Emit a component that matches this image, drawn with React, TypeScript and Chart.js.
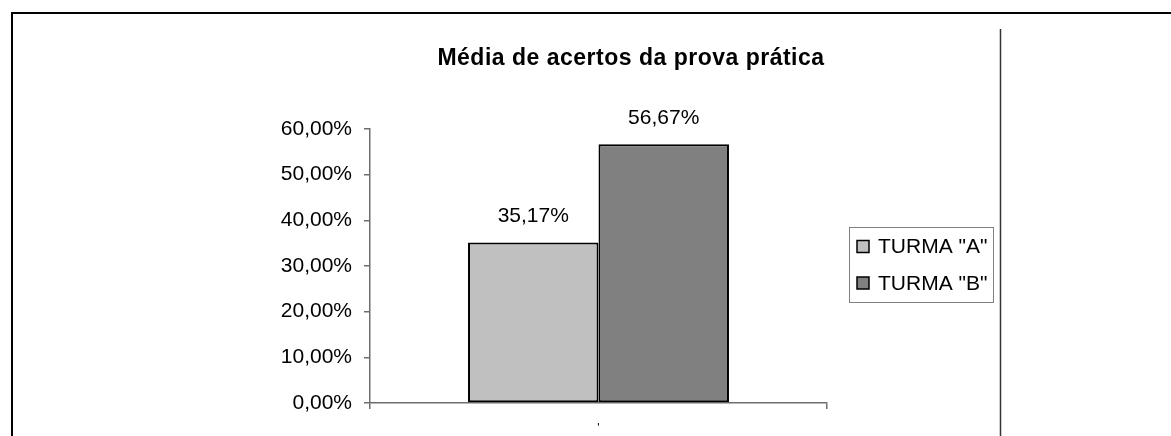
import React, { useEffect, useRef } from "react";
import { Chart, registerables } from "chart.js";

Chart.register(...registerables);

const chartTitle = "Média de acertos da prova prática";
const categories = ["'"];
const seriesNames = ['TURMA "A"', 'TURMA "B"'];
const turmaA = [35.17];
const turmaB = [56.67];
const seriesColors = ["#c0c0c0", "#808080"];
const yMin = 0;
const yMax = 60;
const yStep = 10;

const FONT = '"Liberation Sans", Arial, sans-serif';
const fmt = (v: number) => v.toFixed(2).replace(".", ",") + "%";

const decorPlugin = {
  id: "decor",
  afterDraw(chart: any) {
    const ctx = chart.ctx as CanvasRenderingContext2D;
    ctx.save();
    // outer frame (left + top)
    ctx.strokeStyle = "#000";
    ctx.lineWidth = 2;
    ctx.beginPath();
    ctx.moveTo(12, 436);
    ctx.lineTo(12, 13);
    ctx.lineTo(1171, 13);
    ctx.stroke();
    // inner vertical divider
    ctx.strokeStyle = "#333";
    ctx.lineWidth = 1.5;
    ctx.beginPath();
    ctx.moveTo(1000.5, 29);
    ctx.lineTo(1000.5, 436);
    ctx.stroke();
    // title
    ctx.fillStyle = "#000";
    ctx.font = `bold 23px ${FONT}`;
    ctx.textAlign = "center";
    ctx.textBaseline = "alphabetic";
    (ctx as any).letterSpacing = "0.5px";
    ctx.fillText(chartTitle, 631, 65);
    (ctx as any).letterSpacing = "0px";
    // value labels
    ctx.font = `21px ${FONT}`;
    chart.data.datasets.forEach((ds: any, i: number) => {
      const meta = chart.getDatasetMeta(i);
      meta.data.forEach((bar: any, j: number) => {
        ctx.fillText(fmt(ds.data[j]), bar.x, bar.y - 20);
      });
    });
    // legend
    ctx.strokeStyle = "#808080";
    ctx.lineWidth = 1;
    ctx.strokeRect(849.5, 227.5, 144, 75);
    ctx.textAlign = "left";
    ctx.textBaseline = "middle";
    chart.data.datasets.forEach((ds: any, i: number) => {
      const cy = 246.5 + i * 36.5;
      ctx.fillStyle = ds.backgroundColor;
      ctx.fillRect(857, cy - 6, 12, 12);
      ctx.strokeStyle = "#000";
      ctx.lineWidth = 1.5;
      ctx.strokeRect(857, cy - 6, 12, 12);
      ctx.fillStyle = "#000";
      ctx.fillText(ds.label, 878, cy + 1);
    });
    ctx.restore();
  },
};

export default function App() {
  const ref = useRef<HTMLCanvasElement | null>(null);
  useEffect(() => {
    if (!ref.current) return;
    const chart = new Chart(ref.current, {
      type: "bar",
      data: {
        labels: categories,
        datasets: [
          {
            label: seriesNames[0],
            data: turmaA,
            backgroundColor: seriesColors[0],
            borderColor: "#000",
            borderWidth: 2,
            borderSkipped: false,
          },
          {
            label: seriesNames[1],
            data: turmaB,
            backgroundColor: seriesColors[1],
            borderColor: "#000",
            borderWidth: 2,
            borderSkipped: false,
          },
        ],
      },
      options: {
        responsive: false,
        animation: false,
        devicePixelRatio: 1,
        layout: { padding: { left: 0, top: 129, right: 344, bottom: 0 } },
        datasets: { bar: { categoryPercentage: 0.571, barPercentage: 1 } },
        plugins: {
          legend: { display: false },
          title: { display: false },
          tooltip: { enabled: false },
        },
        scales: {
          x: {
            grid: {
              offset: true,
              drawOnChartArea: false,
              drawTicks: true,
              tickLength: 6,
              color: "#6e6e6e",
              lineWidth: 1.5,
            },
            border: { color: "#6e6e6e", width: 1.5 },
            ticks: {
              color: "#000",
              padding: 12,
              font: { family: FONT, size: 12 },
            },
            afterFit: (s: any) => {
              s.height = 33;
            },
          },
          y: {
            min: yMin,
            max: yMax,
            ticks: {
              stepSize: yStep,
              color: "#000",
              padding: 12,
              font: { family: FONT, size: 21 },
              callback: (v: any) => fmt(Number(v)),
            },
            grid: {
              drawOnChartArea: false,
              drawTicks: true,
              tickLength: 6,
              color: "#6e6e6e",
              lineWidth: 1.5,
            },
            border: { color: "#6e6e6e", width: 1.5 },
            afterFit: (s: any) => {
              s.width = 370;
            },
          },
        },
      },
      plugins: [decorPlugin],
    } as any);
    return () => chart.destroy();
  }, []);
  return (
    <div style={{ position: "fixed", left: 0, top: 0, width: 1171, height: 436, background: "#fff" }}>
      <canvas ref={ref} width={1171} height={436} />
    </div>
  );
}
